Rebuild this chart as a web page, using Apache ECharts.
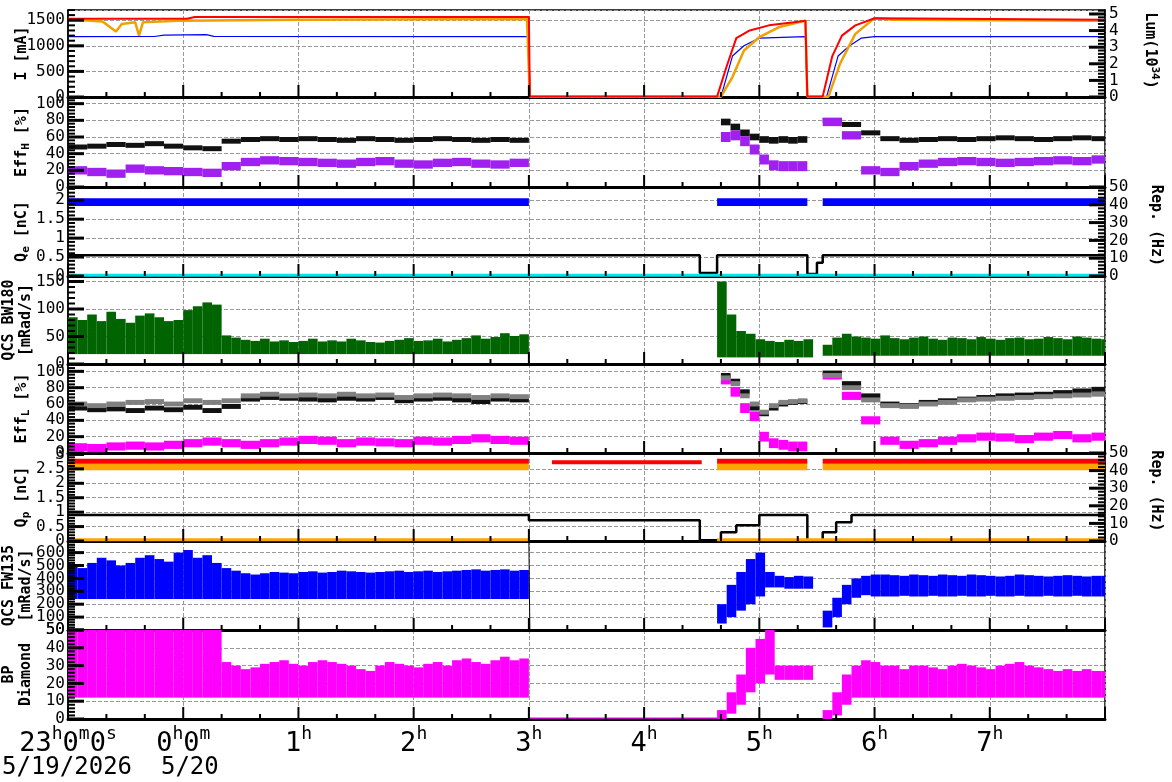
<!DOCTYPE html>
<html><head><meta charset="utf-8">
<script src="https://cdn.jsdelivr.net/npm/echarts@6/dist/echarts.min.js"></script>
<style>html,body{margin:0;background:#fff}#c{width:1172px;height:782px}</style>
</head><body><div id="c"></div>
<script>
// time in minutes since 23:00 (5/19/2026)
const hourLabels = ['23h0m0s','0h0m','1h','2h','3h','4h','5h','6h','7h'];
const lerCurrent = [[0,1530],[62,1530],[66,1565],[240,1565],[240.5,8],[338,8],[343,600],[348,1150],[355,1300],[365,1400],[378,1460],[384,1490],[385,8],[393,8],[398,800],[403,1200],[410,1400],[420,1540],[540,1510]];
const herCurrent = [[0,1180],[45,1182],[50,1210],[72,1220],[76,1185],[240,1180],[240.5,4],[340,4],[346,800],[352,1000],[360,1150],[384,1180],[385,4],[395,4],[401,800],[407,1000],[413,1150],[420,1180],[540,1180]];
const luminosity = [[0,4.7],[10,4.6],[18,4.55],[22,4.2],[25,3.95],[28,4.4],[35,4.5],[37,3.7],[39,4.5],[60,4.6],[120,4.65],[239,4.7],[240.5,0.02],[340,0.02],[346,1.2],[352,2.8],[360,3.6],[370,4.2],[384,4.6],[385,0.02],[396,0.02],[402,2.0],[410,3.8],[420,4.75],[430,4.65],[540,4.6]];
const effHBlackA=[48,49,51,50,52,49,47,46,55,57,58,57,58,57,56,58,57,56,57,58,57,56,57,56];
const effHBlackB=[78,72,65,60,57,56,57,56,57];
const effHBlackC=[80,75,65,58,56,57,58,57,58,59,58,57,58,59,58];
const effHPurpleA=[20,18,16,22,20,19,18,17,25,30,32,31,30,29,28,30,31,28,27,29,30,28,27,29];
const effHPurpleB=[60,62,55,45,33,26,25,25,25];
const effHPurpleC=[78,62,20,18,25,28,30,31,30,29,30,31,32,31,33];
const qeRep=[[0,0.55],[329,0.55],[329,0.08],[338,0.08],[338,0.55],[385,0.55],[385,0.05],[390,0.05],[390,0.35],[393,0.35],[393,0.55],[540,0.55]];
const bwA=[85,80,90,78,95,82,75,88,92,85,78,80,98,105,112,108,52,48,44,42,46,41,43,40,42,46,41,43,41,46,43,40,39,42,44,47,42,43,46,41,44,47,52,46,49,56,51,54];
const bwB=[150,90,60,55,45,42,40,44,42,45];
const bwC=[35,48,55,50,48,46,52,47,45,48,50,46,44,48,47,45,49,46,44,47,48,45,46,49,47,45,50,48,46,45];
const effLBlackA=[55,53,54,52,55,53,56,52,57,66,68,67,66,65,67,66,68,64,66,67,65,63,66,65];
const effLGrayA=[60,58,60,62,63,60,64,62,64,70,72,70,71,70,72,70,71,68,70,71,70,68,70,69];
const effLBlackB=[95,88,75,55,48,55,60,62,63];
const effLGrayB=[92,85,70,60,50,58,62,63,64];
const effLBlackC=[98,85,70,60,58,62,64,66,68,70,71,72,74,76,78];
const effLGrayC=[95,80,65,58,57,60,62,65,66,67,68,69,70,71,72];
const effLMagA=[7,6,8,9,8,10,12,14,12,10,12,14,16,15,12,14,13,12,15,14,16,18,16,15];
const effLMagB=[90,75,55,45,20,12,10,8,8];
const effLMagC=[95,70,40,15,10,12,15,18,20,19,17,20,22,18,20];
const qpRep=[[0,0.9],[240,0.9],[240,0.72],[329,0.72],[329,0.03],[340,0.03],[340,0.3],[348,0.3],[348,0.55],[360,0.55],[360,0.9],[385,0.9],[385,0.03],[393,0.03],[393,0.3],[400,0.3],[400,0.65],[408,0.65],[408,0.9],[540,0.9]];
const fwA=[500,480,520,560,540,500,520,560,580,550,530,600,620,560,580,520,480,460,440,430,440,450,445,440,450,455,445,450,460,455,450,445,450,455,460,450,455,460,450,455,460,465,470,460,465,470,460,465];
const fwBhi=[200,350,450,550,600,450,420,410,420,415];
const fwBlo=[50,100,150,200,260,330,330,320,320,320];
const fwChi=[150,250,350,400,420,430,430,425,420,430,425,420,430,425,420,430,425,420,415,420,430,425,420,415,420,425,420,415,420,420];
const fwClo=[20,100,200,250,270,260,260,260,265,260,260,265,260,260,265,260,260,265,260,260,265,260,260,265,260,260,265,260,260,260];
const bpA=[50,50,50,50,50,50,50,50,50,50,50,50,50,50,50,50,32,30,28,29,31,32,33,31,30,32,33,32,31,30,28,27,30,32,31,30,29,31,32,30,33,34,32,31,33,35,33,34];
const bpBhi=[5,15,25,40,45,50,30,30,30,30];
const bpBlo=[0,3,8,15,20,25,22,22,22,22];
const bpChi=[5,15,25,30,33,32,30,30,28,30,30,29,28,30,31,30,29,28,30,31,32,30,29,28,27,28,27,28,27,27];
const bpClo=[0,2,8,12,12,12,12,12,12,12,12,12,12,12,12,12,12,12,12,12,12,12,12,12,12,12,12,12,12,12];
const leftNames=['I [mA]','{n|Eff}{sub|H}{n| [%]}','{n|Q}{sub|e}{n| [nC]}','QCS BW180\n[mRad/s]','{n|Eff}{sub|L}{n| [%]}','{n|Q}{sub|p}{n| [nC]}','QCS FW135\n[mRad/s]','BP\nDiamond'];

const F='DejaVu Sans Mono';
function band(start,step,lo,hi){return hi.map((h,i)=>[start+i*step,Array.isArray(lo)?lo[i]:lo,h,step]);}
function cband(start,step,c,hw){return c.map((v,i)=>[start+i*step,v-hw,v+hw,step]);}
function renderBand(params,api){
  const t=api.value(0),lo=api.value(1),hi=api.value(2),w=api.value(3);
  const a=api.coord([t,hi]),b=api.coord([t+w,lo]);
  const r=echarts.graphic.clipRectByRect({x:a[0],y:a[1],width:Math.max(b[0]-a[0],0.5),height:Math.max(b[1]-a[1],1)},
    {x:params.coordSys.x,y:params.coordSys.y,width:params.coordSys.width,height:params.coordSys.height});
  return r&&{type:'rect',shape:r,style:{fill:api.visual('color')}};
}
function B(g,yi,data,color){return {type:'custom',xAxisIndex:g,yAxisIndex:yi,data,renderItem:renderBand,itemStyle:{color},silent:true,animation:false};}
function L(g,yi,data,color,w){return {type:'line',xAxisIndex:g,yAxisIndex:yi,data,showSymbol:false,lineStyle:{color,width:w||1.5},itemStyle:{color},animation:false,connectNulls:false};}
// tick list per y axis [grid, yAxisIndex, max, major, side, hideMin, showMax]
function tickList(max,major,nMinor,hideMin,showMax){const d=[];const m=major/nMinor;
  for(let k=0;k*m<=max+1e-9;k++){const v=+(k*m).toFixed(4);const big=k%nMinor===0?1:0;d.push([v,big,big&&!(v===0&&hideMin)?1:0]);}
  if(showMax)d.push([max,0,1]);return d;}
function yLabels(g,yi,ticks,side){
  const x0=side?540:0;
  return {type:'custom',xAxisIndex:g,yAxisIndex:yi,data:ticks.filter(t=>t[2]).map(t=>[x0,t[0]]),z:5,silent:true,animation:false,clip:false,encode:{x:0,y:1},
    renderItem:(p,api)=>{const v=api.value(1);const c=api.coord([x0,v]);
      return {type:'text',x:side?c[0]+4:c[0]-3,y:c[1],style:{text:String(v),fontFamily:F,fontSize:16,fill:'#000',align:side?'left':'right',verticalAlign:'middle'}};}};
}

const tops=[10,97,187,276,364,453,541,630],bots=[97,187,276,364,453,541,630,719];
const grid=tops.map((t,i)=>({left:68,right:67,top:t,height:bots[i]-t,show:true,borderColor:'#000',borderWidth:1.5,containLabel:false,outerBoundsMode:'none'}));
const xAxis=tops.map((t,i)=>({type:'value',gridIndex:i,min:0,max:540,interval:60,
  axisLine:{show:true,onZero:false,lineStyle:{color:'#000',width:3}},
  axisTick:{show:false},
  splitLine:{show:true,lineStyle:{type:'dashed',color:'#999'}},
  axisLabel:{show:i===7,hideOverlap:false,fontFamily:F,fontSize:27,color:'#000',margin:6,
    formatter:v=>{const k=Math.round(v/60);if(k>8)return '';const s=hourLabels[k];
      return s.replace(/(\d+)([hms])/g,'{n|$1}{s|$2}');},
    rich:{n:{fontFamily:F,fontSize:27,color:'#000'},s:{fontFamily:F,fontSize:18,color:'#000',padding:[0,0,20,0]}}}}));
function Y(g,max,interval,opts){return Object.assign({type:'value',gridIndex:g,min:0,max,interval,
  axisLine:{show:true,onZero:false,lineStyle:{color:'#000',width:1.5}},
  axisTick:{show:false},axisLabel:{show:false},
  splitLine:{show:true,lineStyle:{type:'dashed',color:'#999'}}},opts||{});}
const yMax=[1700,108,2.35,160,109,3.05,690,50], yInt=[500,20,0.5,50,20,0.5,100,10];
const yAxis=yMax.map((m,i)=>Y(i,m,yInt[i]));
yAxis.push(Y(0,5.24,1,{position:'right',splitLine:{show:false}}));
yAxis.push(Y(2,50,10,{position:'right',splitLine:{show:false}}));
yAxis.push(Y(5,50,10,{position:'right',splitLine:{show:false}}));
const axisDefs=yMax.map((m,i)=>[i,i,tickList(m,yInt[i],5,i===6,i===7),false]);
axisDefs.push([0,8,tickList(5.24,1,5,false,false),true],[2,9,tickList(50,10,5,false,false),true],[5,10,tickList(50,10,5,false,false),true]);

const series=[
 L(0,0,herCurrent,'#0000ff',1.2), L(0,8,luminosity,'#f0a000',2.5), L(0,0,lerCurrent,'#ff0000',2),
 B(1,1,cband(0,10,effHBlackA,3),'#111'),B(1,1,cband(340,5,effHBlackB,4),'#111'),B(1,1,cband(393,10,effHBlackC,3),'#111'),
 B(1,1,cband(0,10,effHPurpleA,5),'#a020f0'),B(1,1,cband(340,5,effHPurpleB,6),'#a020f0'),B(1,1,cband(393,10,effHPurpleC,5),'#a020f0'),
 B(2,2,band(0,240,1.85,[2.05]),'#0000ff'),B(2,2,band(338,47,1.85,[2.05]),'#0000ff'),B(2,2,band(393,147,1.85,[2.05]),'#0000ff'),
 L(2,2,qeRep,'#000',2.5), L(2,2,[[0,0.02],[540,0.02]],'#00e5ee',3),
 B(3,3,band(0,5,18,bwA),'#006400'),B(3,3,band(338,5,12,bwB),'#006400'),B(3,3,band(393,5,15,bwC),'#006400'),
 B(4,4,cband(0,10,effLMagA,5),'#ff00ff'),B(4,4,cband(340,5,effLMagB,6),'#ff00ff'),B(4,4,cband(393,10,effLMagC,5),'#ff00ff'),
 B(4,4,cband(0,10,effLBlackA,3),'#111'),B(4,4,cband(340,5,effLBlackB,3),'#111'),B(4,4,cband(393,10,effLBlackC,3),'#111'),
 B(4,4,cband(0,10,effLGrayA,3),'#808080'),B(4,4,cband(340,5,effLGrayB,3),'#808080'),B(4,4,cband(393,10,effLGrayC,3),'#808080'),
 B(5,5,band(0,240,2.45,[2.68]),'#ffa500'),B(5,5,band(338,47,2.45,[2.68]),'#ffa500'),B(5,5,band(393,147,2.45,[2.68]),'#ffa500'),
 B(5,5,band(0,240,2.68,[2.85]),'#ff0000'),B(5,5,band(252,78,2.66,[2.8]),'#ff0000'),B(5,5,band(338,47,2.68,[2.85]),'#ff0000'),B(5,5,band(393,147,2.68,[2.85]),'#ff0000'),
 L(5,5,qpRep,'#000',2.5), L(5,5,[[0,0.04],[240,0.04],[240,'-'],[338,0.04],[540,0.04]],'#ffa500',3),
 B(6,6,band(0,5,240,fwA),'#0000ff'),B(6,6,band(338,5,fwBlo,fwBhi),'#0000ff'),B(6,6,band(393,5,fwClo,fwChi),'#0000ff'),
 L(6,6,[[240,690],[240.5,0],[338,0]],'#000',1),
 B(7,7,band(0,5,12,bpA),'#ff00ff'),B(7,7,band(240,98,0.2,[0.8]),'#ff00ff'),B(7,7,band(338,5,bpBlo,bpBhi),'#ff00ff'),B(7,7,band(393,5,bpClo,bpChi),'#ff00ff')
];
axisDefs.forEach(([g,yi,t,side])=>series.push(yLabels(g,yi,t,side)));

const rich={n:{fontFamily:F,fontSize:15,fontWeight:'bold',color:'#000'},sub:{fontFamily:F,fontSize:11,fontWeight:'bold',color:'#000',padding:[0,0,-8,0]},sup:{fontFamily:F,fontSize:11,fontWeight:'bold',color:'#000',padding:[0,0,9,0]}};
const graphic=[{type:'text',left:2,top:756,style:{text:'5/19/2026  5/20',fontFamily:F,fontSize:24,fill:'#000'}}];
leftNames.forEach((s,i)=>{const cy=(tops[i]+bots[i])/2;const two=s.indexOf('\n')>=0;
  graphic.push({type:'text',x:two?18:22,y:cy,rotation:Math.PI/2,style:{text:s,fontFamily:F,fontSize:15,fontWeight:'bold',fill:'#000',align:'center',verticalAlign:'middle',lineHeight:17,rich}});});
[['{n|Lum(10}{sup|34}{n|)}',0,1150],['Rep. (Hz)',2,1156],['Rep. (Hz)',5,1156]].forEach(([s,i,x])=>{
  graphic.push({type:'text',x:x,y:(tops[i]+bots[i])/2-(i===0?3:6),rotation:-Math.PI/2,style:{text:s,fontFamily:F,fontSize:15,fontWeight:'bold',fill:'#000',align:'center',verticalAlign:'middle',rich}});});
const chart=echarts.init(document.getElementById('c'));
chart.setOption({animation:false,grid,xAxis,yAxis,series,graphic});
// tick marks: positions converted through each axis scale
const tickG=[];
axisDefs.forEach(([g,yi,t,side])=>{t.forEach(([v,big])=>{
  const p=chart.convertToPixel({xAxisIndex:g,yAxisIndex:yi},[side?540:0,v]);const len=big?16:7;
  tickG.push({type:'line',z:100,shape:{x1:p[0],y1:p[1],x2:p[0]+(side?-len:len),y2:p[1]},style:{stroke:'#000',lineWidth:big?3:2}});});});
for(let g=0;g<8;g++)for(let k=0;k<=27;k++){const p=chart.convertToPixel({xAxisIndex:g,yAxisIndex:g},[k*20,0]);const len=k%3===0?12:5;
  tickG.push({type:'line',z:100,shape:{x1:p[0],y1:p[1],x2:p[0],y2:p[1]-len},style:{stroke:'#000',lineWidth:2}});}
chart.setOption({graphic:graphic.concat(tickG)});
</script></body></html>
